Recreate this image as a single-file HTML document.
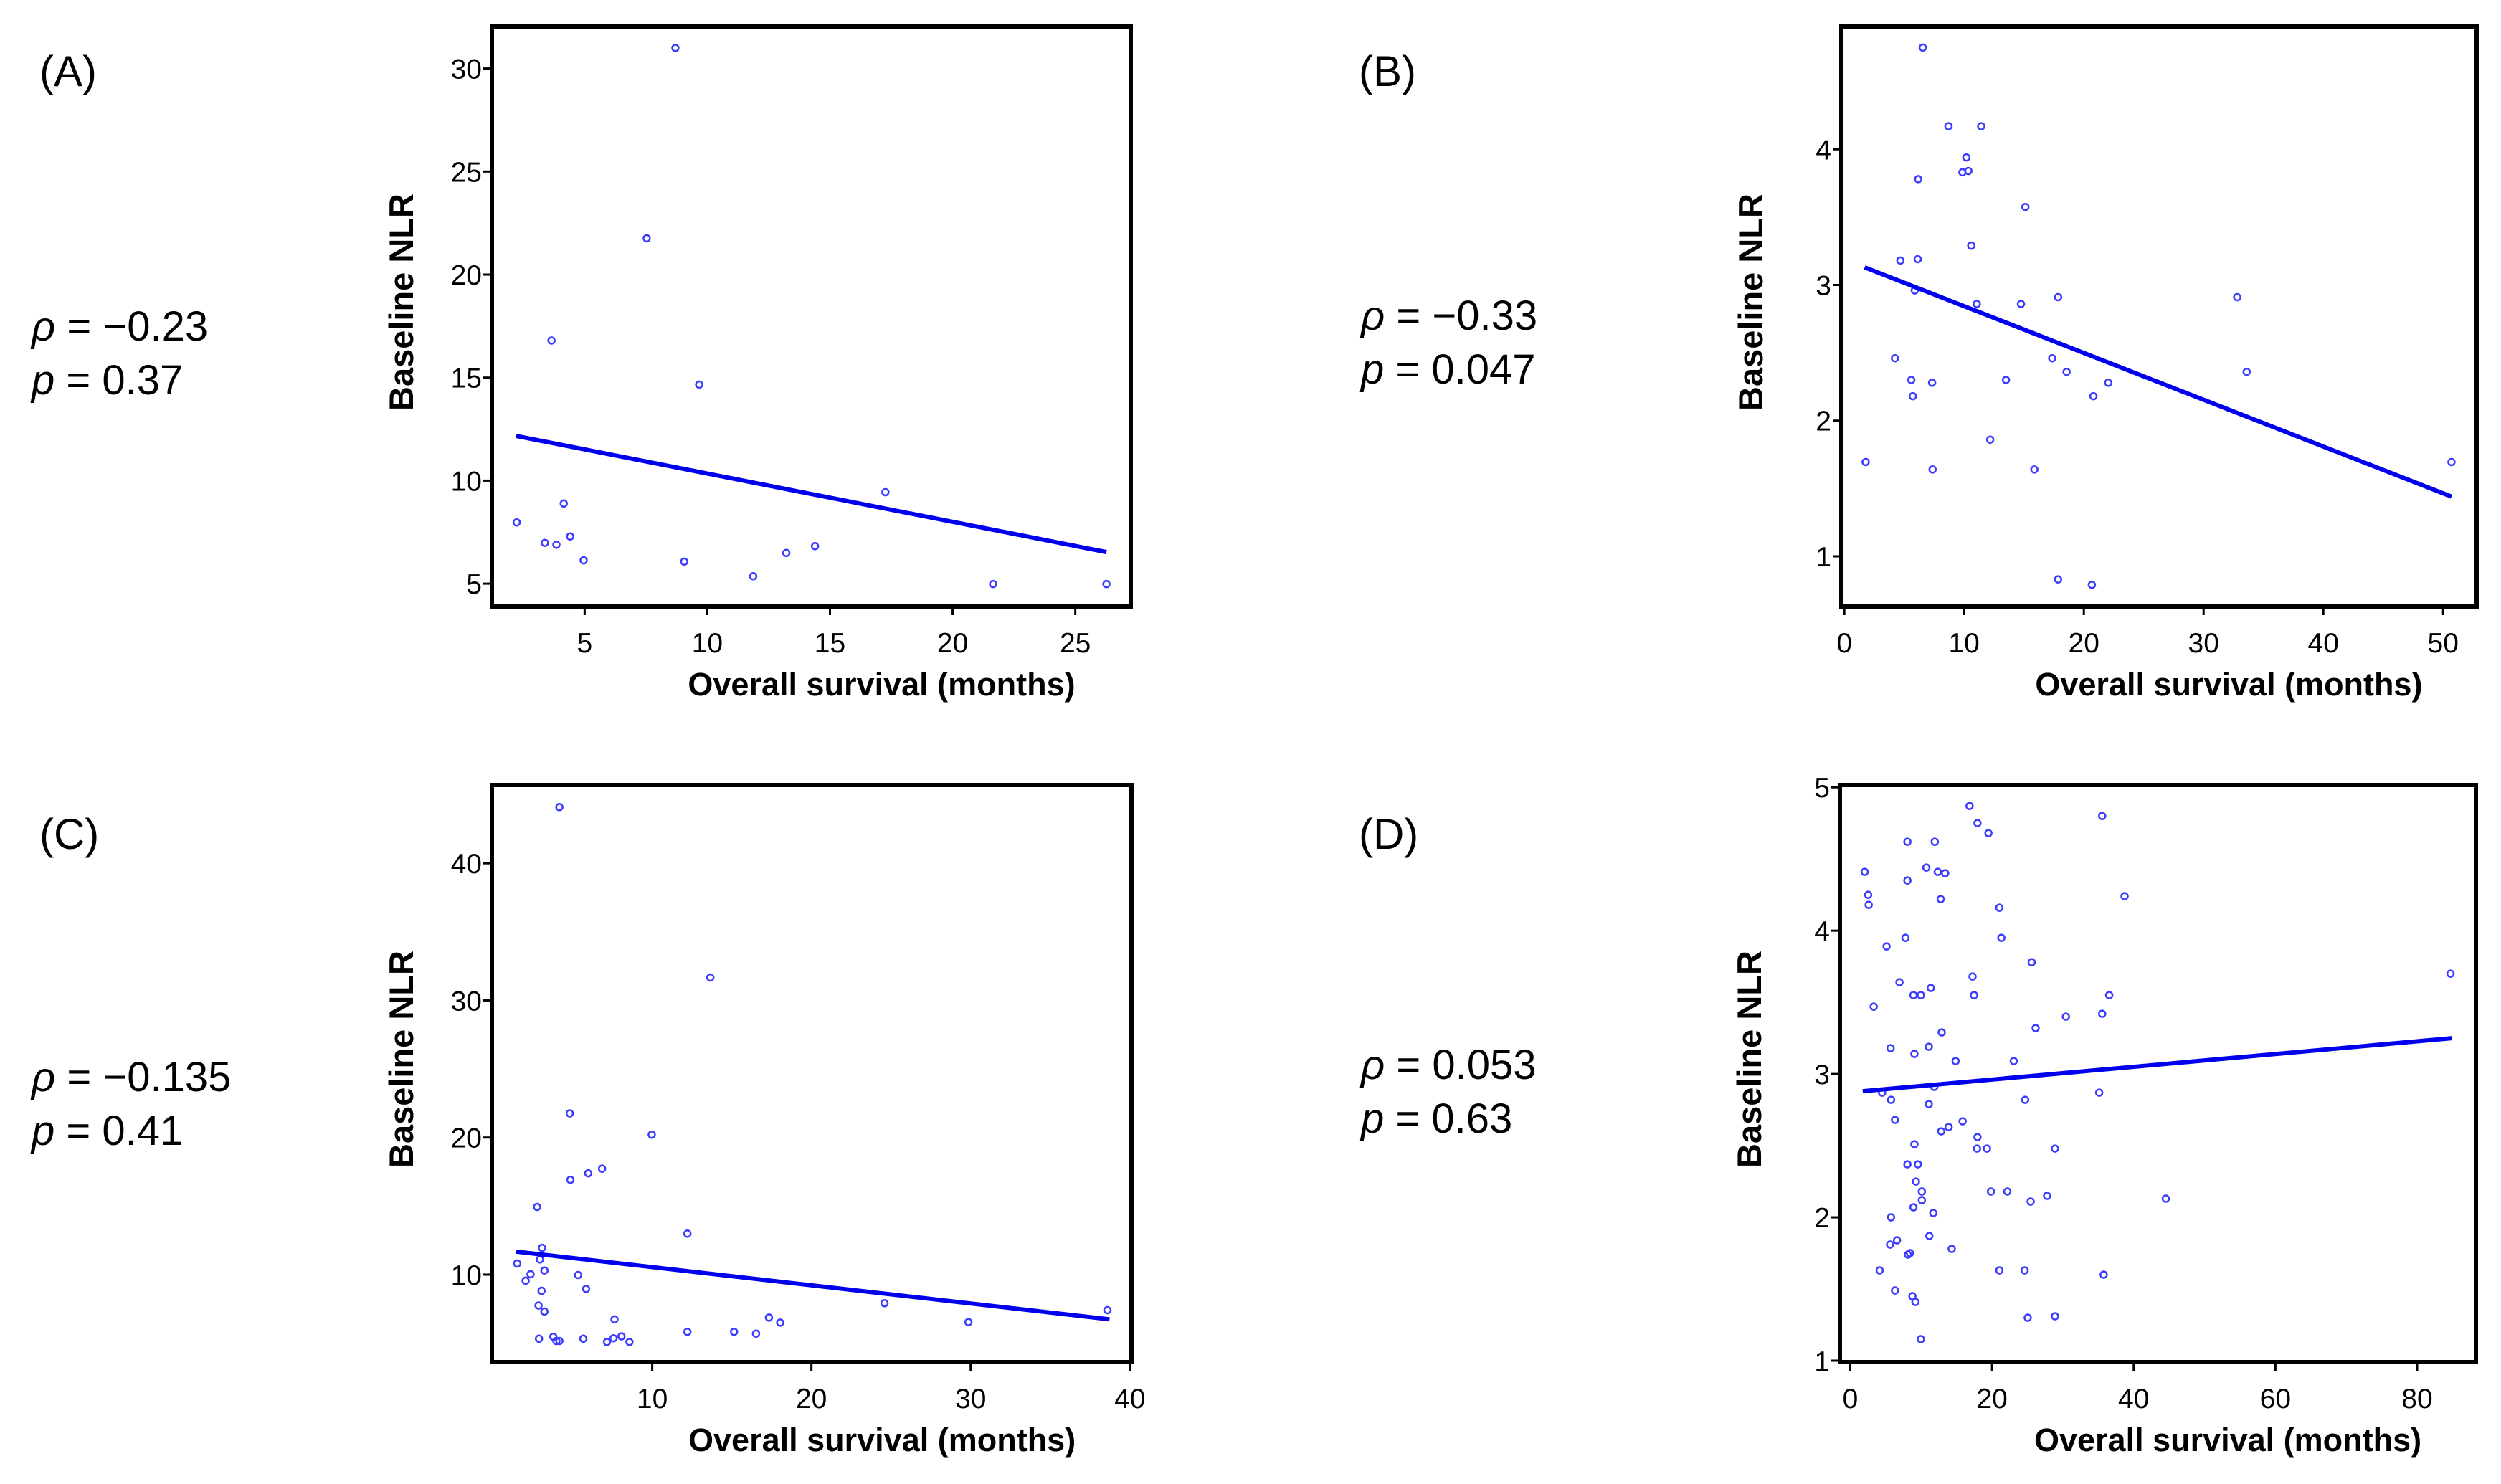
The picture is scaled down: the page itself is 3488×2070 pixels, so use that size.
<!DOCTYPE html>
<html><head><meta charset="utf-8">
<style>
html,body{margin:0;padding:0;background:#fff;}
svg{display:block;font-family:"Liberation Sans",Arial,sans-serif;}
</style></head>
<body>
<svg id="fig" width="3488" height="2070" viewBox="0 0 3488 2070" xmlns="http://www.w3.org/2000/svg">
<rect width="3488" height="2070" fill="#fff"/>
<g fill="#000">
<text x="55" y="120" font-size="60">(A)</text>
<text x="44" y="475" font-size="58"><tspan font-style="italic">ρ</tspan> = −0.23</text>
<text x="44" y="550" font-size="58"><tspan font-style="italic">p</tspan> = 0.37</text>
<text x="1895" y="120" font-size="60">(B)</text>
<text x="1898" y="460" font-size="58"><tspan font-style="italic">ρ</tspan> = −0.33</text>
<text x="1898" y="535" font-size="58"><tspan font-style="italic">p</tspan> = 0.047</text>
<text x="55" y="1184" font-size="60">(C)</text>
<text x="44" y="1522" font-size="58"><tspan font-style="italic">ρ</tspan> = −0.135</text>
<text x="44" y="1597" font-size="58"><tspan font-style="italic">p</tspan> = 0.41</text>
<text x="1895" y="1184" font-size="60">(D)</text>
<text x="1898" y="1505" font-size="58"><tspan font-style="italic">ρ</tspan> = 0.053</text>
<text x="1898" y="1580" font-size="58"><tspan font-style="italic">p</tspan> = 0.63</text>
</g>
</svg>
<script>
// Panel A data
const aX = [2.23,3.38,3.85,3.65,4.15,4.41,4.96,7.53,8.70,9.06,9.67,11.87,13.22,14.39,17.26,21.65,26.27];
const aY = [7.97,6.98,6.89,16.8,8.89,7.29,6.13,21.76,31.0,6.07,14.66,5.36,6.49,6.82,9.44,4.98,4.98];
const aLineX = [2.21,26.27];
const aLineY = [12.17,6.53];
const aXTicks = [5,10,15,20,25];
const aYTicks = [5,10,15,20,25,30];
// Panel B data
const bX = [1.78,4.23,4.68,5.59,5.72,5.88,6.13,6.17,6.55,7.33,7.37,8.70,9.86,10.19,10.36,10.60,11.06,11.43,12.18,13.50,14.75,15.12,15.87,17.36,17.85,17.85,18.56,20.67,20.80,22.04,32.81,33.60,50.70];
const bY = [1.695,2.46,3.18,2.30,2.18,2.96,3.19,3.78,4.75,2.28,1.64,4.17,3.83,3.94,3.84,3.29,2.86,4.17,1.86,2.30,2.86,3.575,1.64,2.46,2.91,0.83,2.36,0.79,2.18,2.28,2.91,2.36,1.695];
const bLineX = [1.70,50.70];
const bLineY = [3.13,1.44];
const bXTicks = [0,10,20,30,40,50];
const bYTicks = [1,2,3,4];
// Panel C data
const cX = [1.52,2.05,2.36,2.77,2.86,2.89,2.95,3.05,3.08,3.23,3.23,3.79,3.98,4.17,4.17,4.82,4.86,5.35,5.67,5.85,5.98,6.85,7.16,7.57,7.63,8.07,8.57,9.97,12.21,12.21,13.65,15.14,16.52,17.33,18.04,24.59,29.86,38.59];
const cY = [10.81,9.56,10.03,14.94,7.75,5.33,11.11,8.82,11.95,7.31,10.30,5.47,5.16,5.16,44.10,21.76,16.92,9.97,5.33,8.96,17.39,17.73,5.09,5.36,6.74,5.50,5.09,20.21,12.99,5.83,31.67,5.83,5.70,6.87,6.50,7.92,6.54,7.41];
const cLineX = [1.46,38.72];
const cLineY = [11.68,6.74];
const cXTicks = [10,20,30,40];
const cYTicks = [10,20,30,40];
// Panel D data
const dX = [2.03,2.52,2.59,3.30,4.14,4.49,5.12,5.68,5.75,5.75,5.61,6.31,6.31,6.59,6.94,7.78,8.06,8.06,8.06,8.13,8.42,8.77,8.91,8.91,9.05,9.05,9.19,9.26,9.54,9.96,9.96,10.10,10.10,10.73,11.08,11.08,11.15,11.36,11.71,11.85,11.92,12.34,12.76,12.83,12.90,13.39,13.88,14.31,14.87,15.85,16.83,17.25,17.46,17.88,17.95,17.95,19.28,19.50,19.85,21.04,21.04,21.32,22.16,23.07,24.61,24.68,25.04,25.46,25.60,26.16,27.77,28.89,28.89,30.43,35.13,35.55,35.55,35.76,36.54,38.71,44.53,84.71];
const dY = [4.41,4.25,4.18,3.47,1.63,2.87,3.89,3.18,2.82,2.00,1.81,2.68,1.49,1.84,3.64,3.95,4.62,4.35,2.37,1.74,1.75,1.45,3.55,2.07,3.14,2.51,1.41,2.25,2.37,3.55,1.15,2.18,2.12,4.44,2.79,3.19,1.87,3.60,2.03,2.91,4.62,4.41,4.22,2.60,3.29,4.40,2.63,1.78,3.09,2.67,4.87,3.68,3.55,2.48,4.75,2.56,2.48,4.68,2.18,4.16,1.63,3.95,2.18,3.09,1.63,2.82,1.30,2.11,3.78,3.32,2.15,2.48,1.31,3.40,2.87,3.42,4.80,1.60,3.55,4.24,2.13,3.70];
const dLineX = [1.75,84.92];
const dLineY = [2.88,3.25];
const dXTicks = [0,20,40,60,80];
const dYTicks = [1,2,3,4,5];

const NS = 'http://www.w3.org/2000/svg';
const svg = document.getElementById('fig');
function mk(tag, attrs, parent){
  const e = document.createElementNS(NS, tag);
  for (const k in attrs) e.setAttribute(k, attrs[k]);
  (parent||svg).appendChild(e);
  return e;
}
function panel(id, box, xd, yd, xs, ys, lx, ly, xt, yt){
  const g = mk('g', {});
  
  
  const sx = v => box.l + (v - xd[0]) / (xd[1] - xd[0]) * (box.r - box.l);
  const sy = v => box.b - (v - yd[0]) / (yd[1] - yd[0]) * (box.b - box.t);
  xt.forEach(t => {
    const x = sx(t);
    const tk = mk('line', {x1:x, x2:x, y1:box.b, y2:box.b+12, stroke:'#000','stroke-width':3}, g);
    
    
    const lb = mk('text', {x:x, y:box.b+64, 'text-anchor':'middle','font-size':39}, g);
    
    
    lb.textContent = t;
  });
  yt.forEach(t => {
    const y = sy(t);
    const tk = mk('line', {x1:box.l-12, x2:box.l, y1:y, y2:y, stroke:'#000','stroke-width':3}, g);
    
    
    const lb = mk('text', {x:box.l-14, y:y+14, 'text-anchor':'end','font-size':39}, g);
    
    
    lb.textContent = t;
  });
  xs.forEach((v,i) => {
    const c = mk('circle', {cx:sx(v), cy:sy(ys[i]), r:4.5, fill:'none', stroke:'#3c3cff','stroke-width':2.5}, g);
    
    
  });
  const ln = mk('line', {x1:sx(lx[0]), y1:sy(ly[0]), x2:sx(lx[1]), y2:sy(ly[1]), stroke:'#0000ee','stroke-width':6}, g);
  
  
  const fr = mk('rect', {x:box.l, y:box.t, width:box.r-box.l, height:box.b-box.t, fill:'none', stroke:'#000','stroke-width':6}, g);
  
  
  const xtl = mk('text', {x:box.l+(box.r-box.l)*0.61, y:box.b+124, 'text-anchor':'middle','font-size':45,'font-weight':'bold'}, g);
  
  
  xtl.textContent = 'Overall survival (months)';
  const yx = box.l - 110, yy = (box.t + box.b) / 2 - 20;
  const ytl = mk('text', {x:yx, y:yy, 'text-anchor':'middle','font-size':47,'font-weight':'bold', transform:'rotate(-90 '+yx+' '+yy+')'}, g);
  
  
  ytl.textContent = 'Baseline NLR';
}
panel('a', {l:686,r:1577,t:37,b:846}, [1.22,27.26], [3.89,32.04], aX, aY, aLineX, aLineY, aXTicks, aYTicks);
panel('b', {l:2568,r:3454,t:37,b:846}, [-0.25,52.8], [0.63,4.905], bX, bY, bLineX, bLineY, bXTicks, bYTicks);
panel('c', {l:686,r:1578,t:1095,b:1900}, [-0.07,40.1], [3.62,45.71], cX, cY, cLineX, cLineY, cXTicks, cYTicks);
panel('d', {l:2566,r:3453,t:1095,b:1900}, [-1.47,88.3], [0.99,5.016], dX, dY, dLineX, dLineY, dXTicks, dYTicks);
</script>
</body></html>
